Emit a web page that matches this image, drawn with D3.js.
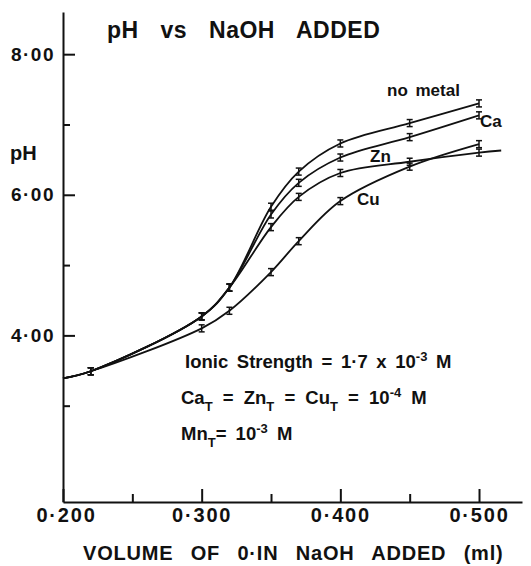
<!DOCTYPE html>
<html>
<head>
<meta charset="utf-8">
<script src="https://cdn.jsdelivr.net/npm/d3@7.9.0/dist/d3.min.js"></script>
<style>
  body { margin: 0; background: #fff; }
  text { font-family: "Liberation Sans", Arial, sans-serif; font-weight: bold; fill: #111; }
</style>
</head>
<body>
<div id="vis"></div>
<script>
// values
const volumes   = [0.22, 0.30, 0.32, 0.35, 0.37, 0.40, 0.45, 0.50];
const phNoMetal = [3.49, 4.27, 4.68, 5.83, 6.33, 6.73, 7.02, 7.30];
const phCa      = [3.49, 4.27, 4.68, 5.72, 6.17, 6.53, 6.82, 7.13];
const phZn      = [3.49, 4.27, 4.68, 5.54, 5.97, 6.31, 6.47, 6.60];
const phCu      = [3.49, 4.10, 4.35, 4.90, 5.34, 5.91, 6.40, 6.72];
const curveStart = [0.200, 3.39];   // where the curves leave the y axis
const znTail     = [0.516, 6.63];   // Zn curve runs past the last point
const errHalf = 0.05;

const yMajor = [4, 6, 8], yMinor = [3, 5, 7];
const xMajor = [0.2, 0.3, 0.4, 0.5], xMinor = [0.25, 0.35, 0.45];

const W = 531, H = 566;
const svg = d3.select('#vis').append('svg')
  .attr('width', W).attr('height', H);

const x = d3.scaleLinear().domain([0.2, 0.531]).range([63, 522]);
const y = d3.scaleLinear().domain([1.63, 8.6]).range([502, 12]);

const fmt = (d, n) => d.toFixed(n).replace('.', '\u00B7');

// axes, ticks pointing inward
const yAx = svg.append('g').attr('transform', `translate(${x(0.2)},0)`)
  .call(d3.axisLeft(y).tickValues(yMajor).tickSize(-12).tickSizeOuter(0)
    .tickPadding(8).tickFormat(d => fmt(d, 2)));
svg.append('g').attr('transform', `translate(${x(0.2)},0)`)
  .call(d3.axisLeft(y).tickValues(yMinor).tickSize(-7).tickSizeOuter(0).tickFormat(''))
  .select('.domain').remove();

const xAx = svg.append('g').attr('transform', `translate(0,${y(1.63)})`)
  .call(d3.axisBottom(x).tickValues(xMajor).tickSize(-13).tickSizeOuter(0)
    .tickPadding(6).tickFormat(d => fmt(d, 3)));
svg.append('g').attr('transform', `translate(0,${y(1.63)})`)
  .call(d3.axisBottom(x).tickValues(xMinor).tickSize(-8).tickSizeOuter(0).tickFormat(''))
  .select('.domain').remove();

svg.selectAll('.domain, .tick line').attr('stroke', '#111').attr('stroke-width', 2);
yAx.selectAll('text').attr('font-size', 19).style('letter-spacing', '1.5px');
xAx.selectAll('text').attr('font-size', 20).style('letter-spacing', '1.8px');
xAx.select('.tick text').attr('dx', 3);

// series
const series = [
  { name: 'no metal', ph: phNoMetal },
  { name: 'Ca', ph: phCa },
  { name: 'Zn', ph: phZn, tail: znTail },
  { name: 'Cu', ph: phCu }
];
series.forEach(s => {
  s.pts = volumes.map((v, i) => [v, s.ph[i]]);
  s.line = [curveStart, ...s.pts].concat(s.tail ? [s.tail] : []);
});

const line = d3.line().x(d => x(d[0])).y(d => y(d[1])).curve(d3.curveCatmullRom.alpha(0.5));

svg.append('g').selectAll('path')
  .data(series).join('path')
    .attr('d', d => line(d.line))
    .attr('fill', 'none')
    .attr('stroke', '#111')
    .attr('stroke-width', 1.8);

// error bars
const bars = svg.append('g').attr('stroke', '#111').attr('stroke-width', 1.5);
series.forEach(s => {
  const g = bars.selectAll(null).data(s.pts).join('g')
    .attr('transform', d => `translate(${x(d[0])},0)`);
  g.append('line').attr('y1', d => y(d[1] - errHalf)).attr('y2', d => y(d[1] + errHalf));
  g.append('line').attr('x1', -3).attr('x2', 3)
    .attr('y1', d => y(d[1] + errHalf)).attr('y2', d => y(d[1] + errHalf));
  g.append('line').attr('x1', -3).attr('x2', 3)
    .attr('y1', d => y(d[1] - errHalf)).attr('y2', d => y(d[1] - errHalf));
});

// curve labels
const lab = [
  { t: 'no metal', x: 387, y: 96 },
  { t: 'Ca', x: 480, y: 127 },
  { t: 'Zn', x: 370, y: 162 },
  { t: 'Cu', x: 357, y: 205 }
];
svg.append('g').selectAll('text').data(lab).join('text')
  .attr('x', d => d.x).attr('y', d => d.y)
  .attr('font-size', 17).style('word-spacing', '3px')
  .text(d => d.t);

// titles
svg.append('text').attr('x', 107).attr('y', 38).attr('font-size', 23)
  .style('word-spacing', '15px').style('letter-spacing', '0.5px')
  .text('pH vs NaOH ADDED');
svg.append('text').attr('x', 10).attr('y', 160).attr('font-size', 20).text('pH');
svg.append('text').attr('x', 83).attr('y', 560).attr('font-size', 20)
  .style('word-spacing', '11px').style('letter-spacing', '0.8px')
  .text('VOLUME OF 0\u00B7IN NaOH ADDED (ml)');

// conditions note
const note = svg.append('g').attr('font-size', 18.5);
const t1 = note.append('text').attr('x', 185).attr('y', 368).style('word-spacing', '3.5px');
t1.append('tspan').text('Ionic  Strength = 1\u00B77 x 10');
t1.append('tspan').attr('dy', -7).attr('font-size', 13).text('-3');
t1.append('tspan').attr('dy', 7).text(' M');

const t2 = note.append('text').attr('x', 181).attr('y', 404).style('word-spacing', '5px');
[['Ca', 'T'], ['Zn', 'T'], ['Cu', 'T']].forEach(([a, b], i) => {
  t2.append('tspan').attr('dy', i ? -7 : 0).text((i ? ' = ' : '') + a);
  t2.append('tspan').attr('dy', 7).attr('font-size', 13).text(b);
});
t2.append('tspan').attr('dy', -7).text(' = 10');
t2.append('tspan').attr('dy', -7).attr('font-size', 13).text('-4');
t2.append('tspan').attr('dy', 7).text('  M');

const t3 = note.append('text').attr('x', 181).attr('y', 440).style('word-spacing', '4px');
t3.append('tspan').text('Mn');
t3.append('tspan').attr('dy', 7).attr('font-size', 13).text('T');
t3.append('tspan').attr('dy', -7).text('= 10');
t3.append('tspan').attr('dy', -7).attr('font-size', 13).text('-3');
t3.append('tspan').attr('dy', 7).text(' M');
</script>
</body>
</html>
